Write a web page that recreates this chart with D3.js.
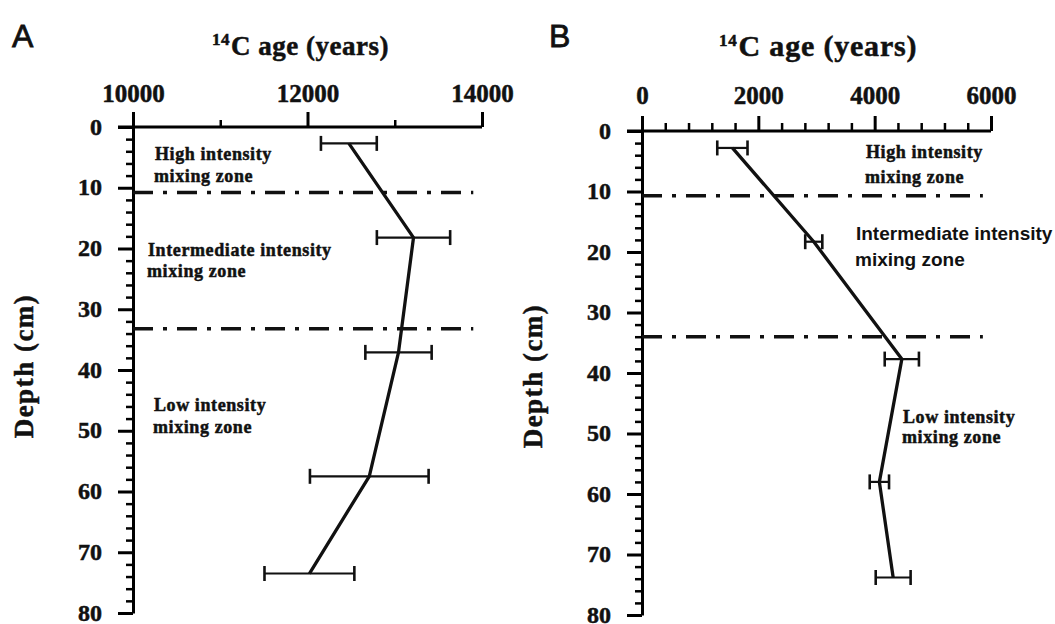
<!DOCTYPE html>
<html>
<head>
<meta charset="utf-8">
<script src="https://cdn.jsdelivr.net/npm/d3@7"></script>
<style>
  body { margin: 0; background: #fff; }
  svg { display: block; }
  .serif { font-family: "Liberation Serif", "Times New Roman", serif; font-weight: bold; fill: #111; stroke: #111; stroke-width: 0.5px; }
  .sans { font-family: "Liberation Sans", Arial, sans-serif; fill: #111; }
</style>
</head>
<body>
<div id="chart"></div>
<script>
// panel A data
const depthA = [2.7, 18.2, 37.1, 57.5, 73.5];
const ageA = [12474, 13215, 13043, 12708, 12022];
const errA = [320, 420, 380, 680, 515];
const zoneA = [10.8, 33.2];

// panel B data
const depthB = [2.8, 18.3, 37.7, 58.0, 73.8];
const ageB = [1554, 2953, 4467, 4081, 4318];
const errB = [260, 147, 294, 166, 300];
const zoneB = [10.7, 34.0];

// ticks
const xTicksA = [10000, 12000, 14000];
const xMinorA = [11000, 13000];
const xTicksB = [0, 2000, 4000, 6000];
const xMinorB = [400, 800, 1200, 1600, 2400, 2800, 3200, 3600, 4400, 4800, 5200, 5600];
const yTicks = [0, 10, 20, 30, 40, 50, 60, 70, 80];
const yMinor = [2, 4, 6, 8, 12, 14, 16, 18, 22, 24, 26, 28, 32, 34, 36, 38, 42, 44, 46, 48,
                52, 54, 56, 58, 62, 64, 66, 68, 72, 74, 76, 78];

// zone labels: [age, depth] of first line baseline
const labelsA = [
  {lines: ["High intensity", "mixing zone"], age: 10252, depth: 5.4, gap: 21.7, sans: false},
  {lines: ["Intermediate intensity", "mixing zone"], age: 10172, depth: 21.2, gap: 21, sans: false},
  {lines: ["Low intensity", "mixing zone"], age: 10240, depth: 46.7, gap: 22, sans: false}
];
const labelsB = [
  {lines: ["High intensity", "mixing zone"], age: 3851, depth: 4.5, gap: 25, sans: false},
  {lines: ["Intermediate intensity", "mixing zone"], age: 3679, depth: 18.0, gap: 26, sans: true},
  {lines: ["Low intensity", "mixing zone"], age: 4487, depth: 48.3, gap: 20, sans: false}
];

const width = 1055, height = 624;

const svg = d3.select("#chart").append("svg")
    .attr("width", width)
    .attr("height", height);

function panel(opt) {
  const x = opt.x, y = opt.y;
  const g = svg.append("g");
  const x0 = x.range()[0];

  // x axis (top)
  const xa = g.append("g")
      .attr("transform", "translate(0," + y(0) + ")")
      .call(d3.axisTop(x).tickValues(opt.xTicks).tickSize(15).tickSizeOuter(0)
        .tickPadding(opt.xPad).tickFormat(d3.format("d")));
  xa.select(".domain").attr("stroke-width", 3).attr("d", "M" + (x0 - 15) + ",0H" + x.range()[1]);
  xa.selectAll(".tick line").attr("stroke-width", 3);
  xa.selectAll(".tick text").attr("class", "serif").style("font-size", "25px");

  const xm = g.append("g")
      .attr("transform", "translate(0," + y(0) + ")")
      .call(d3.axisTop(x).tickValues(opt.xMinor).tickSize(opt.xMinorSize).tickFormat(""));
  xm.select(".domain").remove();
  xm.selectAll(".tick line").attr("stroke-width", 2.5);

  // y axis (left)
  const ya = g.append("g")
      .attr("transform", "translate(" + x0 + ",0)")
      .call(d3.axisLeft(y).tickValues(yTicks).tickSize(15).tickSizeOuter(0).tickPadding(16));
  ya.select(".domain").attr("stroke-width", 3);
  ya.selectAll(".tick line").attr("stroke-width", 3);
  ya.selectAll(".tick text").attr("class", "serif").style("font-size", "24px").attr("dy", "0.3em");

  const ym = g.append("g")
      .attr("transform", "translate(" + x0 + ",0)")
      .call(d3.axisLeft(y).tickValues(yMinor).tickSize(7).tickFormat(""));
  ym.select(".domain").remove();
  ym.selectAll(".tick line").attr("stroke-width", 2.5);

  // zone boundaries
  g.selectAll("line.zone")
    .data(opt.zones)
    .enter().append("line")
      .attr("class", "zone")
      .attr("x1", x0)
      .attr("x2", x(opt.zoneEnd))
      .attr("y1", d => y(d))
      .attr("y2", d => y(d))
      .attr("stroke", "#111")
      .attr("stroke-width", 3.5)
      .attr("stroke-dasharray", "20,10,4,10");

  // profile line
  const pts = opt.depth.map((d, i) => [opt.age[i], d]);
  g.append("path")
      .datum(pts)
      .attr("fill", "none")
      .attr("stroke", "#111")
      .attr("stroke-width", 3.3)
      .attr("stroke-linejoin", "round")
      .attr("d", d3.line().x(d => x(d[0])).y(d => y(d[1])));

  // error bars
  const eb = g.selectAll("g.err")
    .data(pts.map((p, i) => ({age: p[0], depth: p[1], err: opt.err[i]})))
    .enter().append("g")
      .attr("class", "err")
      .attr("stroke", "#111");
  eb.append("line")
      .attr("x1", d => x(d.age - d.err))
      .attr("x2", d => x(d.age + d.err))
      .attr("y1", d => y(d.depth))
      .attr("y2", d => y(d.depth))
      .attr("stroke-width", 2.2);
  [-1, 1].forEach(s => {
    eb.append("line")
        .attr("x1", d => x(d.age + s * d.err))
        .attr("x2", d => x(d.age + s * d.err))
        .attr("y1", d => y(d.depth) - 7.5)
        .attr("y2", d => y(d.depth) + 7.5)
        .attr("stroke-width", 2.6);
  });

  // zone labels
  opt.labels.forEach(l => {
    const t = g.append("text")
        .attr("class", l.sans ? "sans" : "serif")
        .attr("x", x(l.age))
        .attr("y", y(l.depth))
        .style("font-size", l.sans ? "19px" : "18px")
        .style("font-weight", "bold")
        .style("letter-spacing", l.sans ? "0px" : "0.6px");
    l.lines.forEach((s, i) => {
      t.append("tspan")
          .attr("x", x(l.age) - (i ? 1 : 0))
          .attr("dy", i ? l.gap : 0)
          .text(s);
    });
  });

  // title
  const title = g.append("text")
      .attr("class", "serif")
      .attr("x", opt.titleX)
      .attr("y", opt.titleY)
      .style("letter-spacing", opt.titleLs + "px");
  title.append("tspan").style("font-size", "17px").attr("dy", -10).text("14");
  title.append("tspan").style("font-size", opt.titleSize + "px").attr("dx", 1).attr("dy", 10).text("C age (years)");

  // panel letter
  g.append("text")
      .attr("class", "sans")
      .attr("x", opt.letterX)
      .attr("y", 47)
      .style("font-size", "32px")
      .style("stroke", "#111")
      .style("stroke-width", "0.8px")
      .text(opt.letter);

  // y axis title
  g.append("text")
      .attr("class", "serif")
      .attr("transform", "translate(" + (x0 - 100) + "," + opt.depthY + ") rotate(-90)")
      .attr("text-anchor", "middle")
      .style("font-size", "27px")
      .style("letter-spacing", "1.5px")
      .text("Depth (cm)");
}

panel({
  x: d3.scaleLinear().domain([10000, 14000]).range([133, 482]),
  y: d3.scaleLinear().domain([0, 80]).range([127, 613]),
  xTicks: xTicksA, xMinor: xMinorA, xMinorSize: 7, xPad: 10,
  depth: depthA, age: ageA, err: errA,
  zones: zoneA, zoneEnd: 13900,
  labels: labelsA,
  titleX: 212, titleY: 55, titleSize: 27, titleLs: 0.5,
  letter: "A", letterX: 12, depthY: 366
});

panel({
  x: d3.scaleLinear().domain([0, 6000]).range([642, 991]),
  y: d3.scaleLinear().domain([0, 80]).range([131, 615]),
  xTicks: xTicksB, xMinor: xMinorB, xMinorSize: 8, xPad: 12,
  depth: depthB, age: ageB, err: errB,
  zones: zoneB, zoneEnd: 5860,
  labels: labelsB,
  titleX: 719, titleY: 56, titleSize: 30, titleLs: 0.8,
  letter: "B", letterX: 549, depthY: 376
});
</script>
</body>
</html>
